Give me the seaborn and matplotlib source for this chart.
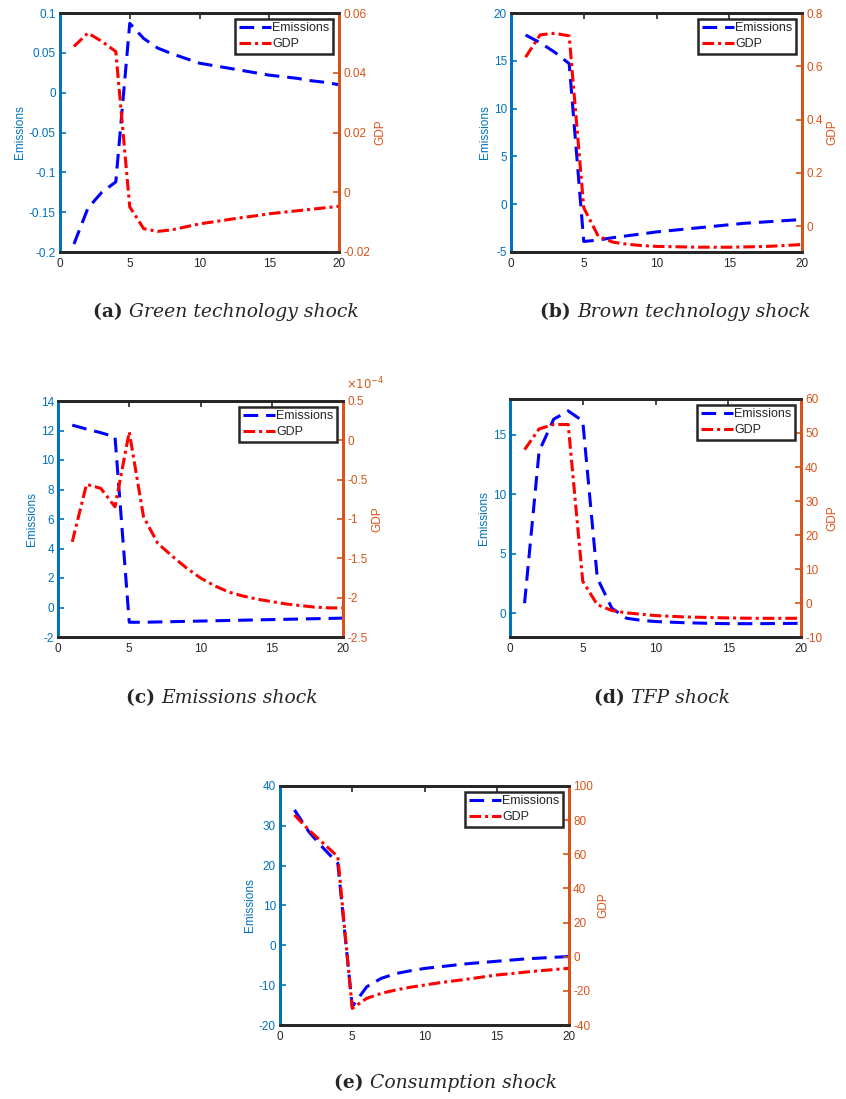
#!/usr/bin/python3

import matplotlib
matplotlib.use('Agg')
import matplotlib.pyplot as plt
from matplotlib.ticker import FuncFormatter
import seaborn as sns
import numpy as np

# periods after the shock
periods = list(range(1, 21))

# (a) green technology shock
em_a = [-0.19, -0.145, -0.125, -0.112, 0.087, 0.068, 0.056, 0.049, 0.043, 0.037,
	0.034, 0.031, 0.028, 0.025, 0.022, 0.020, 0.018, 0.015, 0.013, 0.010]
gdp_a = [0.0488, 0.0533, 0.0505, 0.0471, -0.0049, -0.0122, -0.0131, -0.0126, -0.0116, -0.0106,
	-0.0099, -0.0092, -0.0085, -0.0079, -0.0072, -0.0067, -0.0062, -0.0057, -0.0052, -0.0047]

# (b) brown technology shock
em_b = [17.7, 16.9, 15.9, 14.7, -3.9, -3.75, -3.5, -3.3, -3.1, -2.9,
	-2.75, -2.6, -2.45, -2.3, -2.15, -2.0, -1.9, -1.8, -1.7, -1.6]
gdp_b = [0.634, 0.718, 0.724, 0.714, 0.069, -0.038, -0.060, -0.068, -0.073, -0.076,
	-0.077, -0.078, -0.079, -0.079, -0.079, -0.078, -0.077, -0.075, -0.072, -0.069]

# (c) emissions shock (GDP in units of 1e-4)
em_c = [12.36, 12.1, 11.85, 11.57, -1.0, -1.0, -0.98, -0.96, -0.94, -0.92,
	-0.9, -0.88, -0.86, -0.84, -0.82, -0.8, -0.78, -0.76, -0.74, -0.72]
gdp_c = [-1.29, -0.56, -0.61, -0.845, 0.107, -0.97, -1.31, -1.47, -1.62, -1.75,
	-1.85, -1.93, -1.98, -2.02, -2.05, -2.08, -2.10, -2.12, -2.13, -2.13]

# (d) TFP shock
em_d = [0.84, 13.6, 16.3, 17.0, 16.15, 2.95, 0.42, -0.42, -0.6, -0.7,
	-0.75, -0.8, -0.83, -0.86, -0.88, -0.88, -0.88, -0.87, -0.86, -0.85]
gdp_d = [45.1, 51.2, 52.5, 52.5, 6.4, -0.5, -2.2, -2.9, -3.3, -3.7,
	-3.9, -4.1, -4.2, -4.3, -4.4, -4.45, -4.5, -4.5, -4.5, -4.5]

# (e) consumption shock
em_e = [34.0, 28.5, 24.4, 20.6, -15.4, -10.4, -8.3, -7.1, -6.4, -5.8,
	-5.4, -5.0, -4.6, -4.3, -4.0, -3.7, -3.4, -3.2, -3.0, -2.8]
gdp_e = [83.0, 74.2, 66.4, 58.6, -30.3, -24.4, -21.5, -19.5, -17.9, -16.6,
	-15.3, -14.2, -13.1, -11.9, -10.7, -9.9, -9.0, -8.2, -7.5, -6.8]

captions = ['(a)', '(b)', '(c)', '(d)', '(e)']
titles = ['Green technology shock', 'Brown technology shock', 'Emissions shock',
	'TFP shock', 'Consumption shock']

BLUE_AX = '#0072BD'
ORANGE_AX = '#D95319'
W, H = 846, 1099


def fmt(v, pos):
	return '%g' % (round(v, 10) + 0.0)


def fmt_e4(v, pos):
	return '%g' % (round(v * 1e4, 10) + 0.0)


def box(left, top, right, bottom):
	''' pixel box -> figure fraction rect'''
	return [left / W, 1 - bottom / H, (right - left) / W, (bottom - top) / H]


def plot_panel(fig, rect, em, gdp, left_lim, left_ticks, right_lim, right_ticks, sci=False):
	''' dual axis impulse response panel, matlab yyaxis look'''

	ax = fig.add_axes(rect)
	ax2 = ax.twinx()

	sns.lineplot(x=periods, y=em, ax=ax, color='#0000FF', lw=2.2, legend=False)
	ax.lines[-1].set_dashes([4.8, 2.6])

	gdp_plot = [g * 1e-4 for g in gdp] if sci else gdp
	sns.lineplot(x=periods, y=gdp_plot, ax=ax2, color='#FF0000', lw=2.2, legend=False)
	ax2.lines[-1].set_dashes([3.8, 1.3, 1.0, 1.3])

	ax.set_xlim(0, 20)
	ax.set_xticks([0, 5, 10, 15, 20])
	ax.set_ylim(*left_lim)
	ax.set_yticks(left_ticks)
	ax2.set_ylim(*right_lim)
	ax2.set_yticks(right_ticks)
	ax.yaxis.set_major_formatter(FuncFormatter(fmt))
	ax.xaxis.set_major_formatter(FuncFormatter(fmt))
	ax2.yaxis.set_major_formatter(FuncFormatter(fmt_e4 if sci else fmt))

	ax.set_ylabel('Emissions', color=BLUE_AX, fontsize=8.5, labelpad=2)
	ax2.set_ylabel('GDP', color=ORANGE_AX, fontsize=8.5, labelpad=3)

	for a in (ax, ax2):
		for s in a.spines.values():
			s.set_linewidth(2.0)
		a.spines['top'].set_color('#262626')
		a.spines['bottom'].set_color('#262626')
		a.spines['left'].set_color(BLUE_AX)
		a.spines['right'].set_color(ORANGE_AX)
		a.set_xlabel('')

	ax.tick_params(axis='x', direction='in', top=True, length=4, width=1.2,
		color='#262626', labelcolor='#262626', labelsize=8.5, pad=4)
	ax.tick_params(axis='y', direction='in', length=4, width=1.2,
		color=BLUE_AX, labelcolor=BLUE_AX, labelsize=8.5, pad=3)
	ax2.tick_params(axis='y', direction='in', length=4, width=1.2,
		color=ORANGE_AX, labelcolor=ORANGE_AX, labelsize=8.5, pad=3)

	if sci:
		ax2.text(1.01, 1.035, r'$\times10^{-4}$', transform=ax2.transAxes,
			color=ORANGE_AX, fontsize=8.5, ha='left', va='bottom')

	handles = [ax.lines[0], ax2.lines[0]]
	leg = ax2.legend(handles, ['Emissions', 'GDP'], loc='upper right', fontsize=9,
		frameon=True, fancybox=False, framealpha=1, edgecolor='#262626',
		borderaxespad=0.45, handlelength=2.6, handletextpad=0.1,
		borderpad=0.3, labelspacing=0.3)
	leg.get_frame().set_linewidth(1.8)

	return ax


def caption(fig, xc, yc, tag, title):
	''' bold tag + italic title, centred at pixel position'''

	t1 = fig.text(0, 0, tag + ' ', fontsize=13.5, fontweight='bold', family='DejaVu Serif')
	t2 = fig.text(0, 0, title, fontsize=13.5, fontstyle='italic', family='DejaVu Serif')
	fig.canvas.draw()
	r = fig.canvas.get_renderer()
	w1 = t1.get_window_extent(r).width
	w2 = t2.get_window_extent(r).width
	x0 = xc - (w1 + w2) / 2
	t1.set_position((x0 / W, 1 - yc / H))
	t2.set_position(((x0 + w1) / W, 1 - yc / H))
	t1.set_va('center')
	t2.set_va('center')


def main():
	sns.set_style('white')
	plt.rcParams['font.family'] = ['Liberation Sans', 'DejaVu Sans']
	plt.rcParams['axes.unicode_minus'] = False

	fig = plt.figure(figsize=(W / 100, H / 100), dpi=100)

	plot_panel(fig, box(60, 13, 339, 252), em_a, gdp_a,
		(-0.2, 0.1), np.arange(-0.2, 0.11, 0.05), (-0.02, 0.06), np.arange(-0.02, 0.061, 0.02))
	plot_panel(fig, box(511, 13, 802, 252), em_b, gdp_b,
		(-5, 20), [-5, 0, 5, 10, 15, 20], (-0.097, 0.8), [0, 0.2, 0.4, 0.6, 0.8])
	plot_panel(fig, box(58, 401, 343, 637), em_c, gdp_c,
		(-2, 14), list(range(-2, 15, 2)), (-2.5e-4, 0.5e-4),
		[v * 1e-4 for v in [-2.5, -2, -1.5, -1, -0.5, 0, 0.5]], sci=True)
	plot_panel(fig, box(510, 399, 801, 637), em_d, gdp_d,
		(-2, 18), [0, 5, 10, 15], (-10, 60), list(range(-10, 61, 10)))
	plot_panel(fig, box(280, 786, 569, 1025), em_e, gdp_e,
		(-20, 40), list(range(-20, 41, 10)), (-40, 100), list(range(-40, 101, 20)))

	centres = [(226, 312), (675, 312), (222, 698), (662, 698), (445, 1083)]
	for (xc, yc), tag, title in zip(centres, captions, titles):
		caption(fig, xc, yc, tag, title)

	fig.savefig('out.png', dpi=100)


if __name__ == '__main__':
	main()
